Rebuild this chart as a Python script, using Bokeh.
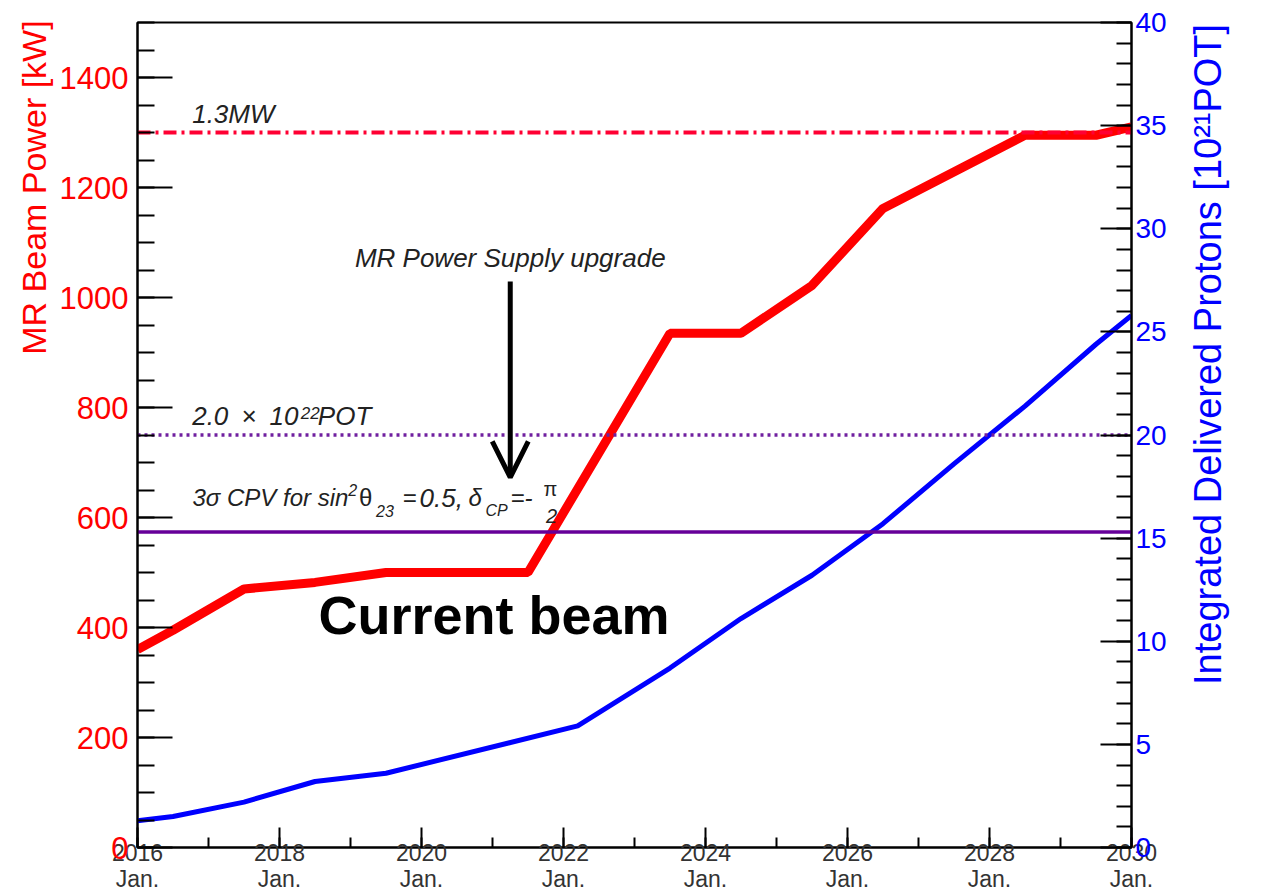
import math

from bokeh.plotting import figure
from bokeh.models import Range1d, LinearAxis, SingleIntervalTicker, Label, Arrow, OpenHead
from bokeh.embed import file_html
from bokeh.resources import INLINE

# MR beam power plan [kW]
years_power = [2016.0, 2016.5, 2017.5, 2018.5, 2019.5, 2021.5, 2023.5, 2024.5,
               2025.5, 2026.5, 2028.5, 2029.5, 2030.0]
power_kw = [360, 395, 470, 482, 500, 500, 935, 935, 1022, 1162, 1295, 1295, 1310]

# Integrated delivered protons [10^21 POT]
years_pot = [2016.0, 2016.5, 2017.5, 2018.5, 2019.5, 2022.2, 2023.5, 2024.5,
             2025.5, 2026.5, 2027.5, 2028.5, 2029.5, 2030.0]
pot_e21 = [1.3, 1.5, 2.2, 3.2, 3.6, 5.9, 8.7, 11.1, 13.2, 15.7, 18.6, 21.4, 24.4, 25.8]

# Reference levels
power_goal_kw = 1300      # 1.3 MW
pot_goal_e21 = 20         # 2.0 x 10^22 POT
cpv_3sigma_e21 = 15.3     # 3 sigma CPV exposure
upgrade_year = 2021.25    # MR power supply upgrade

year_ticks = list(range(2016, 2031, 2))
year_tick_labels = [f"{y}\nJan." for y in year_ticks]

FONT = "Liberation Sans"
RED = "#ff0000"
BLUE = "#0000ff"
PURPLE = "#660099"
INK = "#222222"
EM = "\u2003"     # em space, pushes axis titles toward the top end
NBSP = "\u00a0"

p = figure(width=1279, height=894,
           x_range=Range1d(2016, 2030), y_range=Range1d(0, 1500),
           output_backend="svg", toolbar_location=None,
           min_border_left=137, min_border_right=148,
           min_border_top=22, min_border_bottom=46)
p.extra_y_ranges = {"pot": Range1d(0, 40)}
p.grid.visible = False
p.outline_line_color = "black"
p.outline_line_width = 2
p.background_fill_color = "white"
p.border_fill_color = "white"

# left axis: beam power
ay = p.yaxis[0]
ay.ticker = SingleIntervalTicker(interval=200, num_minor_ticks=4)
ay.axis_label = EM * 14 + NBSP * 2 + "MR Beam Power [kW]"
ay.axis_label_text_font = FONT
ay.axis_label_text_font_size = "34px"
ay.axis_label_text_font_style = "normal"
ay.axis_label_text_color = RED
ay.axis_label_standoff = 4
ay.major_label_text_font = FONT
ay.major_label_text_font_size = "31px"
ay.major_label_text_color = RED
ay.major_label_standoff = 9
ay.major_tick_in = 35
ay.major_tick_out = 0
ay.minor_tick_in = 17
ay.minor_tick_out = 0
ay.axis_line_width = 2
ay.major_tick_line_width = 2
ay.minor_tick_line_width = 2

# right axis: integrated POT
ar = LinearAxis(y_range_name="pot",
                ticker=SingleIntervalTicker(interval=5, num_minor_ticks=5))
ar.axis_label = EM * 4 + NBSP + "Integrated Delivered Protons [10\u00b2\u00b9POT]"
ar.axis_label_text_font = FONT
ar.axis_label_text_font_size = "38px"
ar.axis_label_text_font_style = "normal"
ar.axis_label_text_color = BLUE
ar.axis_label_standoff = 38
ar.axis_label_orientation = math.pi / 2
ar.axis_label_align = "start"
ar.major_label_text_font = FONT
ar.major_label_text_font_size = "28px"
ar.major_label_text_color = BLUE
ar.major_label_standoff = 4
ar.major_tick_in = 31
ar.major_tick_out = 0
ar.minor_tick_in = 15
ar.minor_tick_out = 0
ar.axis_line_width = 2
ar.major_tick_line_width = 2
ar.minor_tick_line_width = 2
p.add_layout(ar, "right")

# bottom axis: years
ax = p.xaxis[0]
ax.ticker = SingleIntervalTicker(interval=2, num_minor_ticks=2)
ax.major_label_overrides = dict(zip(year_ticks, year_tick_labels))
ax.major_label_text_font = FONT
ax.major_label_text_font_size = "23px"
ax.major_label_text_color = "#333333"
ax.major_label_text_line_height = 1.0
ax.major_label_standoff = -8
ax.major_tick_in = 20
ax.major_tick_out = 0
ax.minor_tick_in = 10
ax.minor_tick_out = 0
ax.axis_line_width = 2
ax.major_tick_line_width = 2
ax.minor_tick_line_width = 2

# data curves
p.line(years_pot, pot_e21, y_range_name="pot", line_color=BLUE, line_width=5)
p.line(years_power, power_kw, line_color=RED, line_width=9)

# reference levels
p.line([2016, 2030], [power_goal_kw, power_goal_kw], line_color="#ff0033",
       line_width=4, line_dash="13 5 3 5")
p.line([2016, 2030], [pot_goal_e21, pot_goal_e21], y_range_name="pot",
       line_color="#7020a0", line_width=3.5, line_dash="3 4")
p.line([2016, 2030], [cpv_3sigma_e21, cpv_3sigma_e21], y_range_name="pot",
       line_color=PURPLE, line_width=3.5)

# upgrade arrow
p.add_layout(Arrow(end=OpenHead(size=36, line_width=5, line_color="black"),
                   x_start=upgrade_year, y_start=1029,
                   x_end=upgrade_year, y_end=673,
                   line_width=5, line_color="black"))


def note(x, y, text, size=26, style="italic", color=INK, align="left", font=FONT):
    p.add_layout(Label(x=x, y=y, text=text, text_font=font, text_font_size=f"{size}px",
                       text_font_style=style, text_color=color, text_align=align,
                       text_baseline="alphabetic"))


note(2016.77, 1333, "1.3MW")
note(upgrade_year, 1072, "MR Power Supply upgrade", align="center")

note(2016.77, 784, "2.0\u2002\u00d7\u200210")
note(2018.30, 790, "22", size=17)
note(2018.54, 784, "POT")

note(2016.775, 636, "3\u03c3 CPV for sin", size=24)
note(2018.97, 650, "2", size=16)
note(2019.12, 636, "\u03b8", size=24, style="normal")
note(2019.36, 612, "23", size=16)
note(2019.732, 636, "=", size=24)
note(2019.972, 636, "0.5,", size=26)
note(2020.662, 636, "\u03b4", size=24)
note(2020.901, 612, "CP", size=16)
note(2021.254, 636, "=-", size=24)
note(2021.817, 651, "\u03c0", size=20, style="normal", align="center")
note(2021.831, 602, "2", size=20, align="center")

note(2018.55, 422, "Current beam", size=54, style="bold", color="black")

open("out.html", "w").write(file_html(p, INLINE))
